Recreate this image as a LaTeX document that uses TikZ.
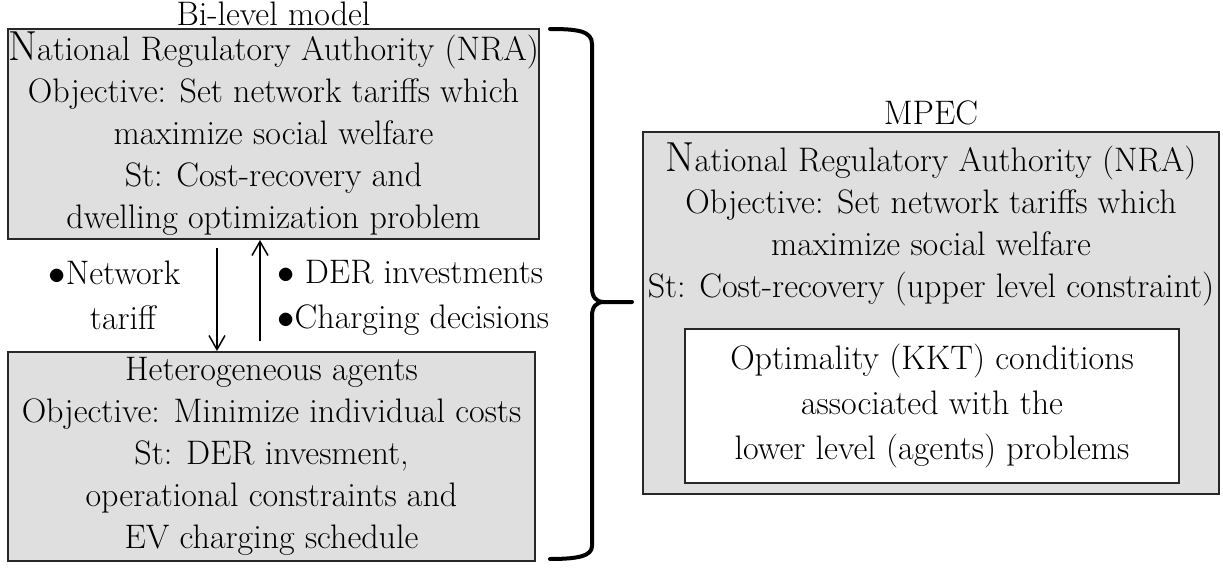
\documentclass[tikz,border=0pt]{standalone}
\usetikzlibrary{arrows.meta,calc,positioning}
\definecolor{panelgray}{RGB}{224,223,224}
\definecolor{edgegray}{RGB}{40,40,40}
\begin{document}
\begin{tikzpicture}[x=0.5pt,y=0.5pt,yscale=-1,xscale=1,
  every node/.style={font=\fontsize{17}{21}\selectfont},
  panel/.style={draw=edgegray,fill=panelgray,line width=1pt,inner sep=0pt,align=center},
  flow/.style={line width=0.75pt,-{Straight Barb[length=7pt,width=8pt]}},
  curly/.style={line width=2pt,line cap=round,line join=round}]
\useasboundingbox (0,0) rectangle (1223,568);

%Shape: Rectangle [upper level]
\node[panel,minimum width=264.5pt,minimum height=105pt] (nra) at (273.5,134)
  {{\fontsize{21}{21}\selectfont N}ational Regulatory Authority (NRA)\\Objective: Set network tariffs which\\maximize social welfare\\St: Cost-recovery and\\dwelling optimization problem};
% Text Node
\node[above=0.8pt of nra,inner sep=0pt] (bilevel) {Bi-level model};

%Shape: Rectangle [lower level]
\node[panel,minimum width=263.5pt,minimum height=104.5pt] (agents) at (271.5,456.5)
  {Heterogeneous agents\\Objective: Minimize individual costs\\St: DER invesment,\\operational constraints and\\EV charging schedule};

%Straight Lines
\coordinate (dnx) at (217,300);
\coordinate (upx) at (260,300);
\draw[flow] ($(nra.south -| dnx)+(0,8)$) -- (agents.north -| dnx);
\draw[flow] ($(agents.north -| upx)+(0,-10)$) -- (nra.south -| upx);

% Text Node
\node[align=center,inner sep=0pt,font=\fontsize{17}{22.5}\selectfont] (tarifflbl) at (123,295) {\llap{$\bullet$}Network\\tariff};
% Text Node
\node[align=left,anchor=west,inner sep=0pt,font=\fontsize{17}{22.5}\selectfont] (decisionlbl) at (277,298) {$\bullet$ DER investments\\$\bullet$Charging decisions};

%Shape: Brace
\draw[curly] (550,29) .. controls (578,29) and (592,31) .. (592,44) -- (592,288)
  .. controls (592,297) and (596,302) .. (604,302) -- (632,302);
\draw[curly] (604,302) .. controls (596,302) and (592,307) .. (592,316) -- (592,546)
  .. controls (592,556) and (578,559) .. (550,559);

%Shape: Rectangle [MPEC]
\node[panel,minimum width=288pt,minimum height=181pt] (mpec) at (931,313) {};
% Text Node
\node[above=3pt of mpec,inner sep=0pt] (mpeclbl) {MPEC};
% Text Node
\node[align=center,inner sep=0pt] (mpectext) at (931,224)
  {{\fontsize{21}{21}\selectfont N}ational Regulatory Authority (NRA)\\Objective: Set network tariffs which\\maximize social welfare\\St: Cost-recovery (upper level constraint)};
%Shape: Rectangle [KKT]
\node[panel,fill=white,minimum width=247pt,minimum height=77pt,font=\fontsize{17}{22.5}\selectfont] (kkt) at (932,406)
  {Optimality (KKT) conditions\\associated with the\\lower level (agents) problems};
\end{tikzpicture}
\end{document}
